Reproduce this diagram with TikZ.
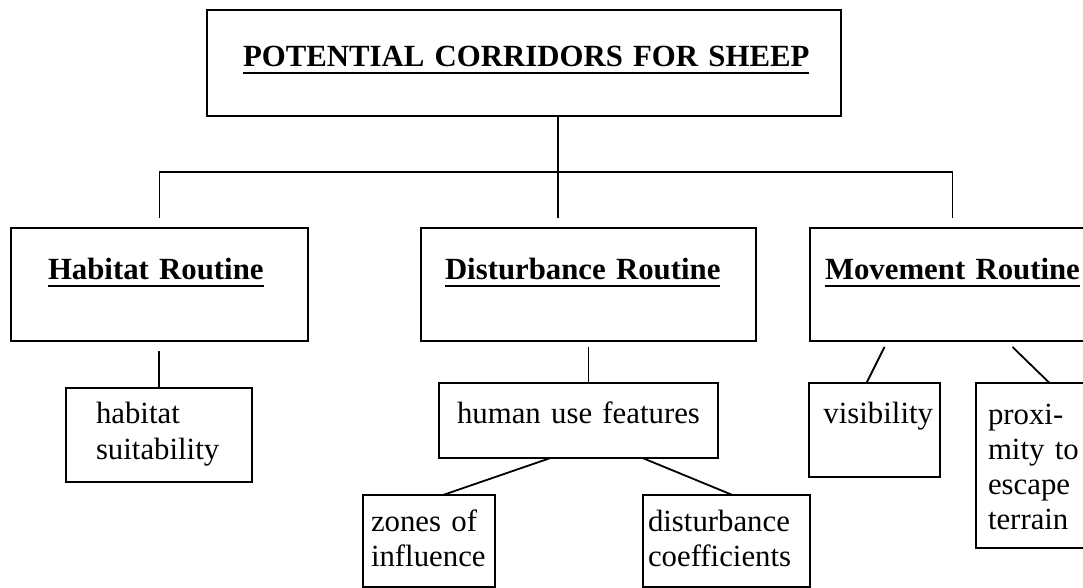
\documentclass[tikz,border=0pt]{standalone}
\usepackage{fontspec}
\setmainfont{Liberation Serif}
\usetikzlibrary{positioning,calc}

\newcommand{\ulbold}[1]{\leavevmode\setbox0\hbox{#1}\rlap{\rule[-3.5pt]{\wd0}{1pt}}\box0}

\begin{document}
\begin{tikzpicture}
  [x=0.5pt,y=-0.5pt,
  every node/.style={font=\fontsize{15.4}{17.5}\selectfont},
  box/.style={draw,rectangle,inner ysep=0pt,outer sep=0pt,anchor=base west,line width=0.9pt},
  routine/.style={box,font=\fontsize{15.4}{17.5}\selectfont\bfseries,align=left,text height=26pt,text depth=30.5pt},
  link/.style={line width=0.9pt}
  ]
  \useasboundingbox (0,0) rectangle (1083,588);
  \clip (0,0) rectangle (1083,588);

  % main box
  \node[box,font=\fontsize{15.4}{17.5}\selectfont\bfseries,align=center,text width=281pt,inner xsep=18pt,text height=28.5pt,text depth=24.5pt] (corr) at (207,67) {\ulbold{POTENTIAL CORRIDORS FOR SHEEP}};

  % routines
  \node[routine,text width=111.5pt,inner xsep=18.5pt] (hab) at (11,280) {\ulbold{Habitat Routine}};
  \node[routine,text width=143.5pt,inner xsep=12pt] (dist) at (421,280) {\ulbold{Disturbance Routine}};
  \node[routine,text width=127.5pt,inner xsep=7.5pt] (mov) at (810,280) {\ulbold{Movement Routine}};

  % inputs
  \node[box,align=left,text width=63pt,inner xsep=15pt,text height=18pt,text depth=29pt] (suit) at (66,424) {habitat\\suitability};
  \node[box,align=center,text width=131.5pt,inner xsep=4pt,text height=20.5pt,text depth=17pt] (human) at (439,424) {human use features};
  \node[box,align=left,text width=58pt,inner xsep=4pt,text height=18pt,text depth=28pt] (zones) at (363,531) {zones of\\influence};
  \node[box,align=left,text width=78.5pt,inner xsep=2.5pt,text height=18pt,text depth=28pt] (coef) at (643,531) {disturbance\\coefficients};
  \node[box,align=right,text width=58.5pt,inner xsep=3.5pt,text height=20.5pt,text depth=26.5pt] (vis) at (809,424) {visibility};
  \node[box,align=left,text width=47.5pt,inner xsep=6pt,text height=21pt,text depth=61.5pt] (prox) at (976,425) {proxi-\\mity to\\escape\\terrain};

  \coordinate (hub) at (558,172);

  \draw[link,shorten >=5pt] (corr.south -| hub) -- (hub |- dist.north);
  \draw[link,shorten <=5pt,shorten >=5pt] (hab.north) -- (hab.north |- hub) -- (mov.north |- hub) -- (mov.north);
  \draw[link,shorten <=5pt] (suit.north |- hab.south) -- (suit.north);
  \draw[link,shorten <=3pt] (dist.south) -- (dist.south |- human.north);
  \draw[link] ([xshift=-14pt]human.south) -- ([xshift=7pt]zones.north);
  \draw[link] ([xshift=32pt]human.south) -- ([xshift=3pt]coef.north);
  \draw[link] ([xshift=-34pt,yshift=-3pt]mov.south) -- ([xshift=-4pt]vis.north);
  \draw[link] ([xshift=30pt,yshift=-3pt]mov.south) -- ([xshift=7pt]prox.north);
\end{tikzpicture}
\end{document}
